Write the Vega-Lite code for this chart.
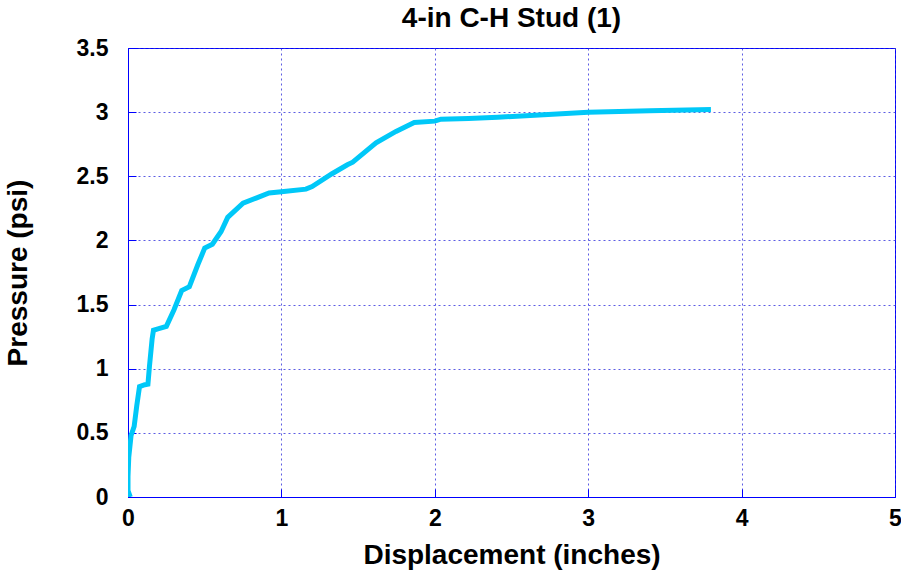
{
  "$schema": "https://vega.github.io/schema/vega-lite/v6.json",
  "width": 767,
  "height": 449,
  "autosize": "none",
  "padding": {"left": 128, "top": 48, "right": 6, "bottom": 74},
  "background": "white",
  "title": {
    "text": "4-in C-H Stud (1)",
    "font": "Liberation Sans",
    "fontSize": 28,
    "fontWeight": "bold",
    "color": "black",
    "anchor": "middle",
    "frame": "group",
    "baseline": "bottom",
    "offset": -24
  },
  "config": {
    "view": {"stroke": "#0000ff", "strokeWidth": 1},
    "axis": {
      "labelFont": "Liberation Sans",
      "labelFontSize": 23,
      "labelFontWeight": "bold",
      "labelColor": "black",
      "titleFont": "Liberation Sans",
      "titleFontSize": 28,
      "titleFontWeight": "bold",
      "titleColor": "black",
      "domainColor": "#0000ff",
      "tickColor": "#0000ff",
      "tickSize": -8,
      "gridColor": "#3333dd",
      "gridOpacity": 0.8,
      "gridDash": [2, 3],
      "gridWidth": 1
    }
  },
  "data": {
    "values": [
      {"d": 0.015, "p": 0.0},
      {"d": 0.0, "p": 0.05},
      {"d": 0.0, "p": 0.16},
      {"d": 0.005, "p": 0.31},
      {"d": 0.02, "p": 0.48},
      {"d": 0.04, "p": 0.55},
      {"d": 0.057, "p": 0.71},
      {"d": 0.075, "p": 0.86},
      {"d": 0.11, "p": 0.875},
      {"d": 0.13, "p": 0.88},
      {"d": 0.14, "p": 1.02},
      {"d": 0.157, "p": 1.23},
      {"d": 0.166, "p": 1.3},
      {"d": 0.195, "p": 1.31},
      {"d": 0.25, "p": 1.33},
      {"d": 0.3, "p": 1.46},
      {"d": 0.35, "p": 1.61},
      {"d": 0.4, "p": 1.64},
      {"d": 0.455, "p": 1.81},
      {"d": 0.5, "p": 1.94},
      {"d": 0.55, "p": 1.97},
      {"d": 0.607, "p": 2.07},
      {"d": 0.65, "p": 2.18},
      {"d": 0.75, "p": 2.29},
      {"d": 0.835, "p": 2.33},
      {"d": 0.92, "p": 2.37},
      {"d": 1.0, "p": 2.38},
      {"d": 1.16, "p": 2.4},
      {"d": 1.2, "p": 2.42},
      {"d": 1.33, "p": 2.52},
      {"d": 1.43, "p": 2.59},
      {"d": 1.465, "p": 2.61},
      {"d": 1.617, "p": 2.76},
      {"d": 1.747, "p": 2.85},
      {"d": 1.866, "p": 2.92},
      {"d": 2.0, "p": 2.93},
      {"d": 2.04, "p": 2.945},
      {"d": 2.22, "p": 2.95},
      {"d": 2.41, "p": 2.96},
      {"d": 2.71, "p": 2.98},
      {"d": 3.0, "p": 3.0},
      {"d": 3.4, "p": 3.01},
      {"d": 3.8, "p": 3.02}
    ]
  },
  "mark": {"type": "line", "color": "#00c8f8", "strokeWidth": 5, "clip": true},
  "encoding": {
    "x": {
      "field": "d",
      "type": "quantitative",
      "scale": {"domain": [0, 5], "nice": false, "zero": false},
      "axis": {
        "title": "Displacement (inches)",
        "values": [0, 1, 2, 3, 4, 5],
        "format": "~g",
        "titleY": 66,
        "titleBaseline": "alphabetic",
        "labelBaseline": "top",
        "labelPadding": 18,
        "labelFlush": false,
        "labelOverlap": false
      }
    },
    "y": {
      "field": "p",
      "type": "quantitative",
      "scale": {"domain": [0, 3.5], "nice": false, "zero": false},
      "axis": {
        "title": "Pressure (psi)",
        "values": [0, 0.5, 1, 1.5, 2, 2.5, 3, 3.5],
        "format": "~g",
        "titleX": -110,
        "titleBaseline": "middle",
        "titleAngle": -90,
        "labelPadding": 28,
        "labelFlush": false,
        "labelOverlap": false,
        "labelBaseline": "middle"
      }
    },
    "order": {"value": null}
  }
}
